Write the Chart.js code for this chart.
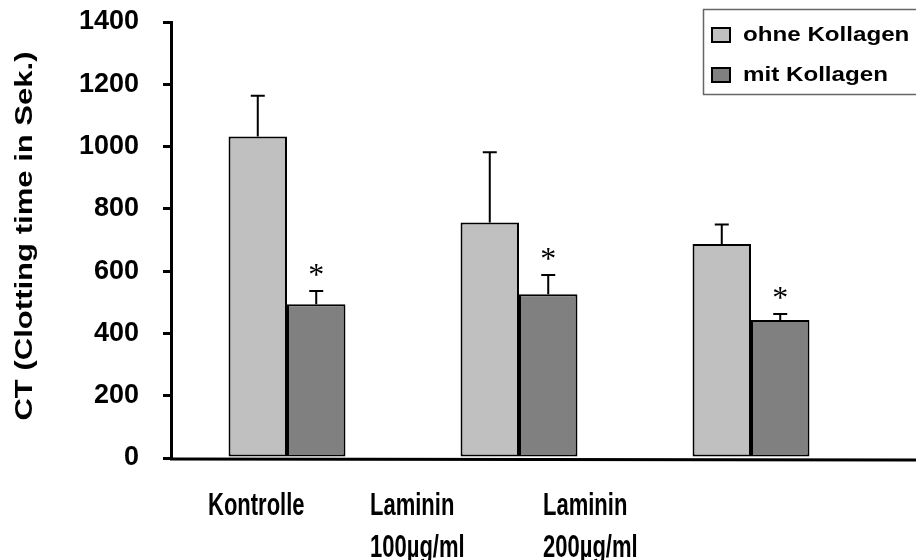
<!DOCTYPE html>
<html>
<head>
<meta charset="utf-8">
<script src="https://cdn.jsdelivr.net/npm/chart.js@4"></script>
<style>
  html, body { margin: 0; padding: 0; background: #fff; }
  #wrap { width: 916px; height: 560px; }
</style>
</head>
<body>
<div id="wrap"><canvas id="ctChart"></canvas></div>
<script>
const groups = [["Kontrolle"], ["Laminin", "100µg/ml"], ["Laminin", "200µg/ml"]];
const seriesNames = ["ohne Kollagen", "mit Kollagen"];
const ohneKollagen = [1032, 756, 687];
const ohneKollagenErr = [131, 226, 63];
const mitKollagen = [494, 526, 443];
const mitKollagenErr = [42, 62, 19];
const mitSignificant = [true, true, true];
const yTicks = [0, 200, 400, 600, 800, 1000, 1200, 1400];
const yTitle = "CT (Clotting time in Sek.)";

const FONT = "'Liberation Sans', Arial, sans-serif";
const colors = ["#c0c0c0", "#808080"];

// left edge of each category label, as placed in the original figure
const labelLeft = [208, 370, 543];

const decorations = {
  id: "decorations",
  afterDatasetsDraw(chart) {
    const { ctx, chartArea, scales } = chart;
    const y = scales.y;
    ctx.save();

    // error bars, upper whisker only
    ctx.strokeStyle = "#000";
    ctx.lineWidth = 2;
    chart.data.datasets.forEach((ds, di) => {
      chart.getDatasetMeta(di).data.forEach((bar, i) => {
        const top = y.getPixelForValue(ds.data[i] + ds.errors[i]);
        ctx.beginPath();
        ctx.moveTo(bar.x, bar.y);
        ctx.lineTo(bar.x, top);
        ctx.moveTo(bar.x - 7, top);
        ctx.lineTo(bar.x + 7, top);
        ctx.stroke();
        if (ds.stars && ds.stars[i]) {
          ctx.fillStyle = "#000";
          ctx.font = "32px 'Liberation Serif', serif";
          ctx.textAlign = "center";
          ctx.textBaseline = "alphabetic";
          ctx.fillText("*", bar.x, top - 6);
        }
      });
    });

    // baseline runs to the right edge
    ctx.lineWidth = 3;
    ctx.beginPath();
    ctx.moveTo(chartArea.left - 1, chartArea.bottom + 1);
    ctx.lineTo(chart.width, chartArea.bottom + 2);
    ctx.stroke();

    // y title
    ctx.save();
    ctx.translate(26, 236);
    ctx.rotate(-Math.PI / 2);
    ctx.scale(1.35, 1);
    ctx.font = "bold 23px " + FONT;
    ctx.fillStyle = "#000";
    ctx.textAlign = "center";
    ctx.textBaseline = "middle";
    ctx.fillText(yTitle, 0, 0);
    ctx.restore();

    // category labels
    ctx.fillStyle = "#000";
    ctx.textAlign = "left";
    ctx.textBaseline = "alphabetic";
    groups.forEach((lines, i) => {
      ctx.save();
      ctx.translate(labelLeft[i], 515);
      ctx.scale(1, 1.43);
      ctx.font = "bold 22px " + FONT;
      lines.forEach((line, k) => ctx.fillText(line, 0, k * 42 / 1.43));
      ctx.restore();
    });

    // legend
    ctx.strokeStyle = "#666";
    ctx.lineWidth = 1.5;
    ctx.strokeRect(703.5, 9.5, 240, 85);
    seriesNames.forEach((name, i) => {
      const cy = 35 + i * 40;
      ctx.fillStyle = colors[i];
      ctx.fillRect(712, cy - 7, 18, 14);
      ctx.strokeStyle = "#000";
      ctx.lineWidth = 2;
      ctx.strokeRect(712, cy - 7, 18, 14);
      ctx.save();
      ctx.translate(743, cy + 6);
      ctx.scale(1.15, 1);
      ctx.fillStyle = "#000";
      ctx.font = "bold 21px " + FONT;
      ctx.textBaseline = "alphabetic";
      ctx.fillText(name, 0, 0);
      ctx.restore();
    });

    ctx.restore();
  },
};

new Chart(document.getElementById("ctChart"), {
  type: "bar",
  data: {
    labels: groups,
    datasets: [
      {
        label: seriesNames[0],
        data: ohneKollagen,
        errors: ohneKollagenErr,
        backgroundColor: colors[0],
        borderColor: "#000",
        borderWidth: 2,
        borderSkipped: false,
      },
      {
        label: seriesNames[1],
        data: mitKollagen,
        errors: mitKollagenErr,
        stars: mitSignificant,
        backgroundColor: colors[1],
        borderColor: "#000",
        borderWidth: 2,
        borderSkipped: false,
      },
    ],
  },
  options: {
    responsive: true,
    maintainAspectRatio: false,
    animation: false,
    layout: { padding: { top: 22, right: 49, left: 0, bottom: 0 } },
    datasets: {
      bar: { categoryPercentage: 0.504, barPercentage: 1.0 },
    },
    plugins: {
      legend: { display: false },
      tooltip: { enabled: false },
    },
    scales: {
      x: {
        ticks: { display: false },
        grid: { display: false },
        border: { display: false },
        afterFit(scale) {
          scale.height = 102;
        },
      },
      y: {
        min: 0,
        max: 1400,
        afterBuildTicks(scale) {
          scale.ticks = yTicks.map((v) => ({ value: v }));
        },
        ticks: {
          color: "#000",
          padding: 24,
          font: { family: FONT, size: 27, weight: "bold" },
          callback: (v) => String(v),
        },
        grid: {
          drawOnChartArea: false,
          drawTicks: true,
          tickLength: 8,
          color: "#000",
          lineWidth: 3,
        },
        border: { display: true, color: "#000", width: 3 },
        afterFit(scale) {
          scale.width = 171;
          scale.paddingTop = 0;
          scale.paddingBottom = 0;
        },
      },
    },
  },
  plugins: [decorations],
});
</script>
</body>
</html>
